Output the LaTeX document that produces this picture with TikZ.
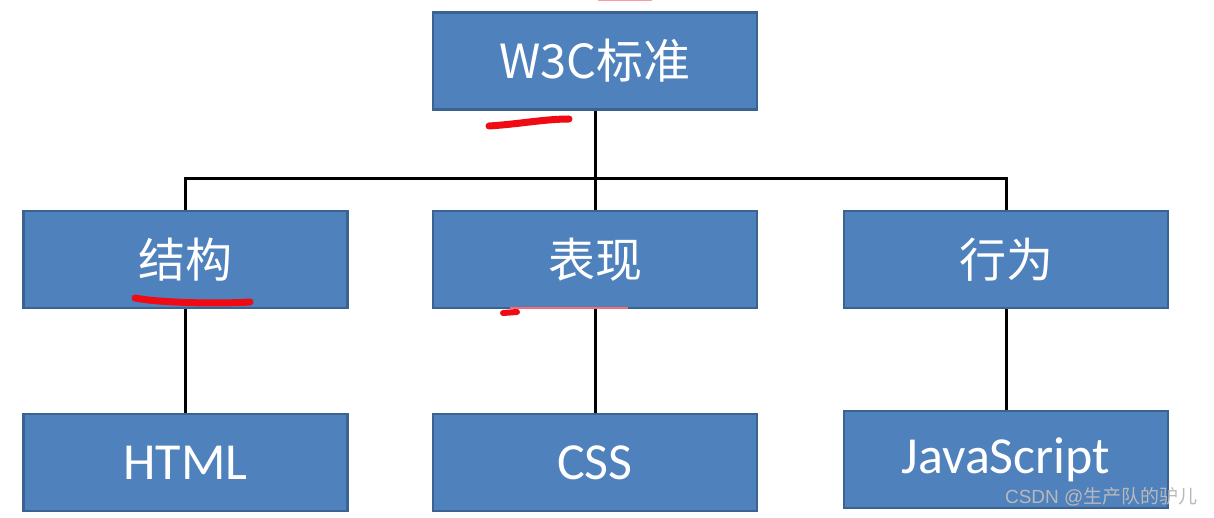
\documentclass[tikz,border=0pt]{standalone}
\usepackage{fontspec}
\setmainfont{Carlito}
\newfontfamily\cjk{Noto Sans CJK SC}
\definecolor{boxfill}{HTML}{4F81BD}
\definecolor{boxline}{HTML}{3B6391}
\definecolor{marker}{HTML}{F00A14}
\begin{document}
\begin{tikzpicture}[x=1pt,y=-1pt,
  box/.style={draw=boxline,line width=2.2pt,fill=boxfill,minimum width=324pt,minimum height=97pt,inner sep=0pt,text=white,font=\fontsize{47}{50}\selectfont\cjk},
  latin/.style={font=\fontsize{52}{56}\selectfont},
  link/.style={draw=black,line width=3pt},
  redmark/.style={draw=marker,line width=7pt,line cap=round}]
\useasboundingbox (0,0) rectangle (1214,518);
\fill[white] (0,0) rectangle (1214,518);
\coordinate (j) at (595,179);
\node[box] (w3c) at (595,61) {W3C标准};
\node[box] (jg) at (185.5,259.5) {结构};
\node[box] (bx) at (595,259.5) {表现};
\node[box] (xw) at (1006,259.5) {行为};
\node[box,latin] (html) at (185.5,462.5) {HTML};
\node[box,latin] (css) at (595,462.5) {CSS};
\node[box,latin] (js) at (1006,459.5) {JavaScript};
% connectors
\draw[link] (w3c.south) -- (j);
\draw[link] (jg.north) |- (j) -| (xw.north);
\draw[link] (j) -- (bx.north);
\draw[link] (jg.south) -- (html.north);
\draw[link] (bx.south) -- (css.north);
\draw[link] (xw.south) -- (js.north);
% red annotation strokes
\draw[redmark] (489,126) .. controls (520,124) and (545,119) .. (569,119);
\draw[redmark] (135,298) .. controls (160,303) and (220,304) .. (250,302);
\draw[redmark,line width=6pt] (503,313) -- (517,312);
\draw[marker!60,line width=2pt] (510,308) -- (628,308);
\draw[marker!40,line width=3pt] (598,0) -- (652,0);
% watermark
\node[anchor=east,text=gray!55,font=\fontsize{19}{21}\selectfont] (wm) at (1201,497) {\fontspec{Liberation Sans}CSDN @{\cjk 生产队的驴儿}};
\end{tikzpicture}
\end{document}
